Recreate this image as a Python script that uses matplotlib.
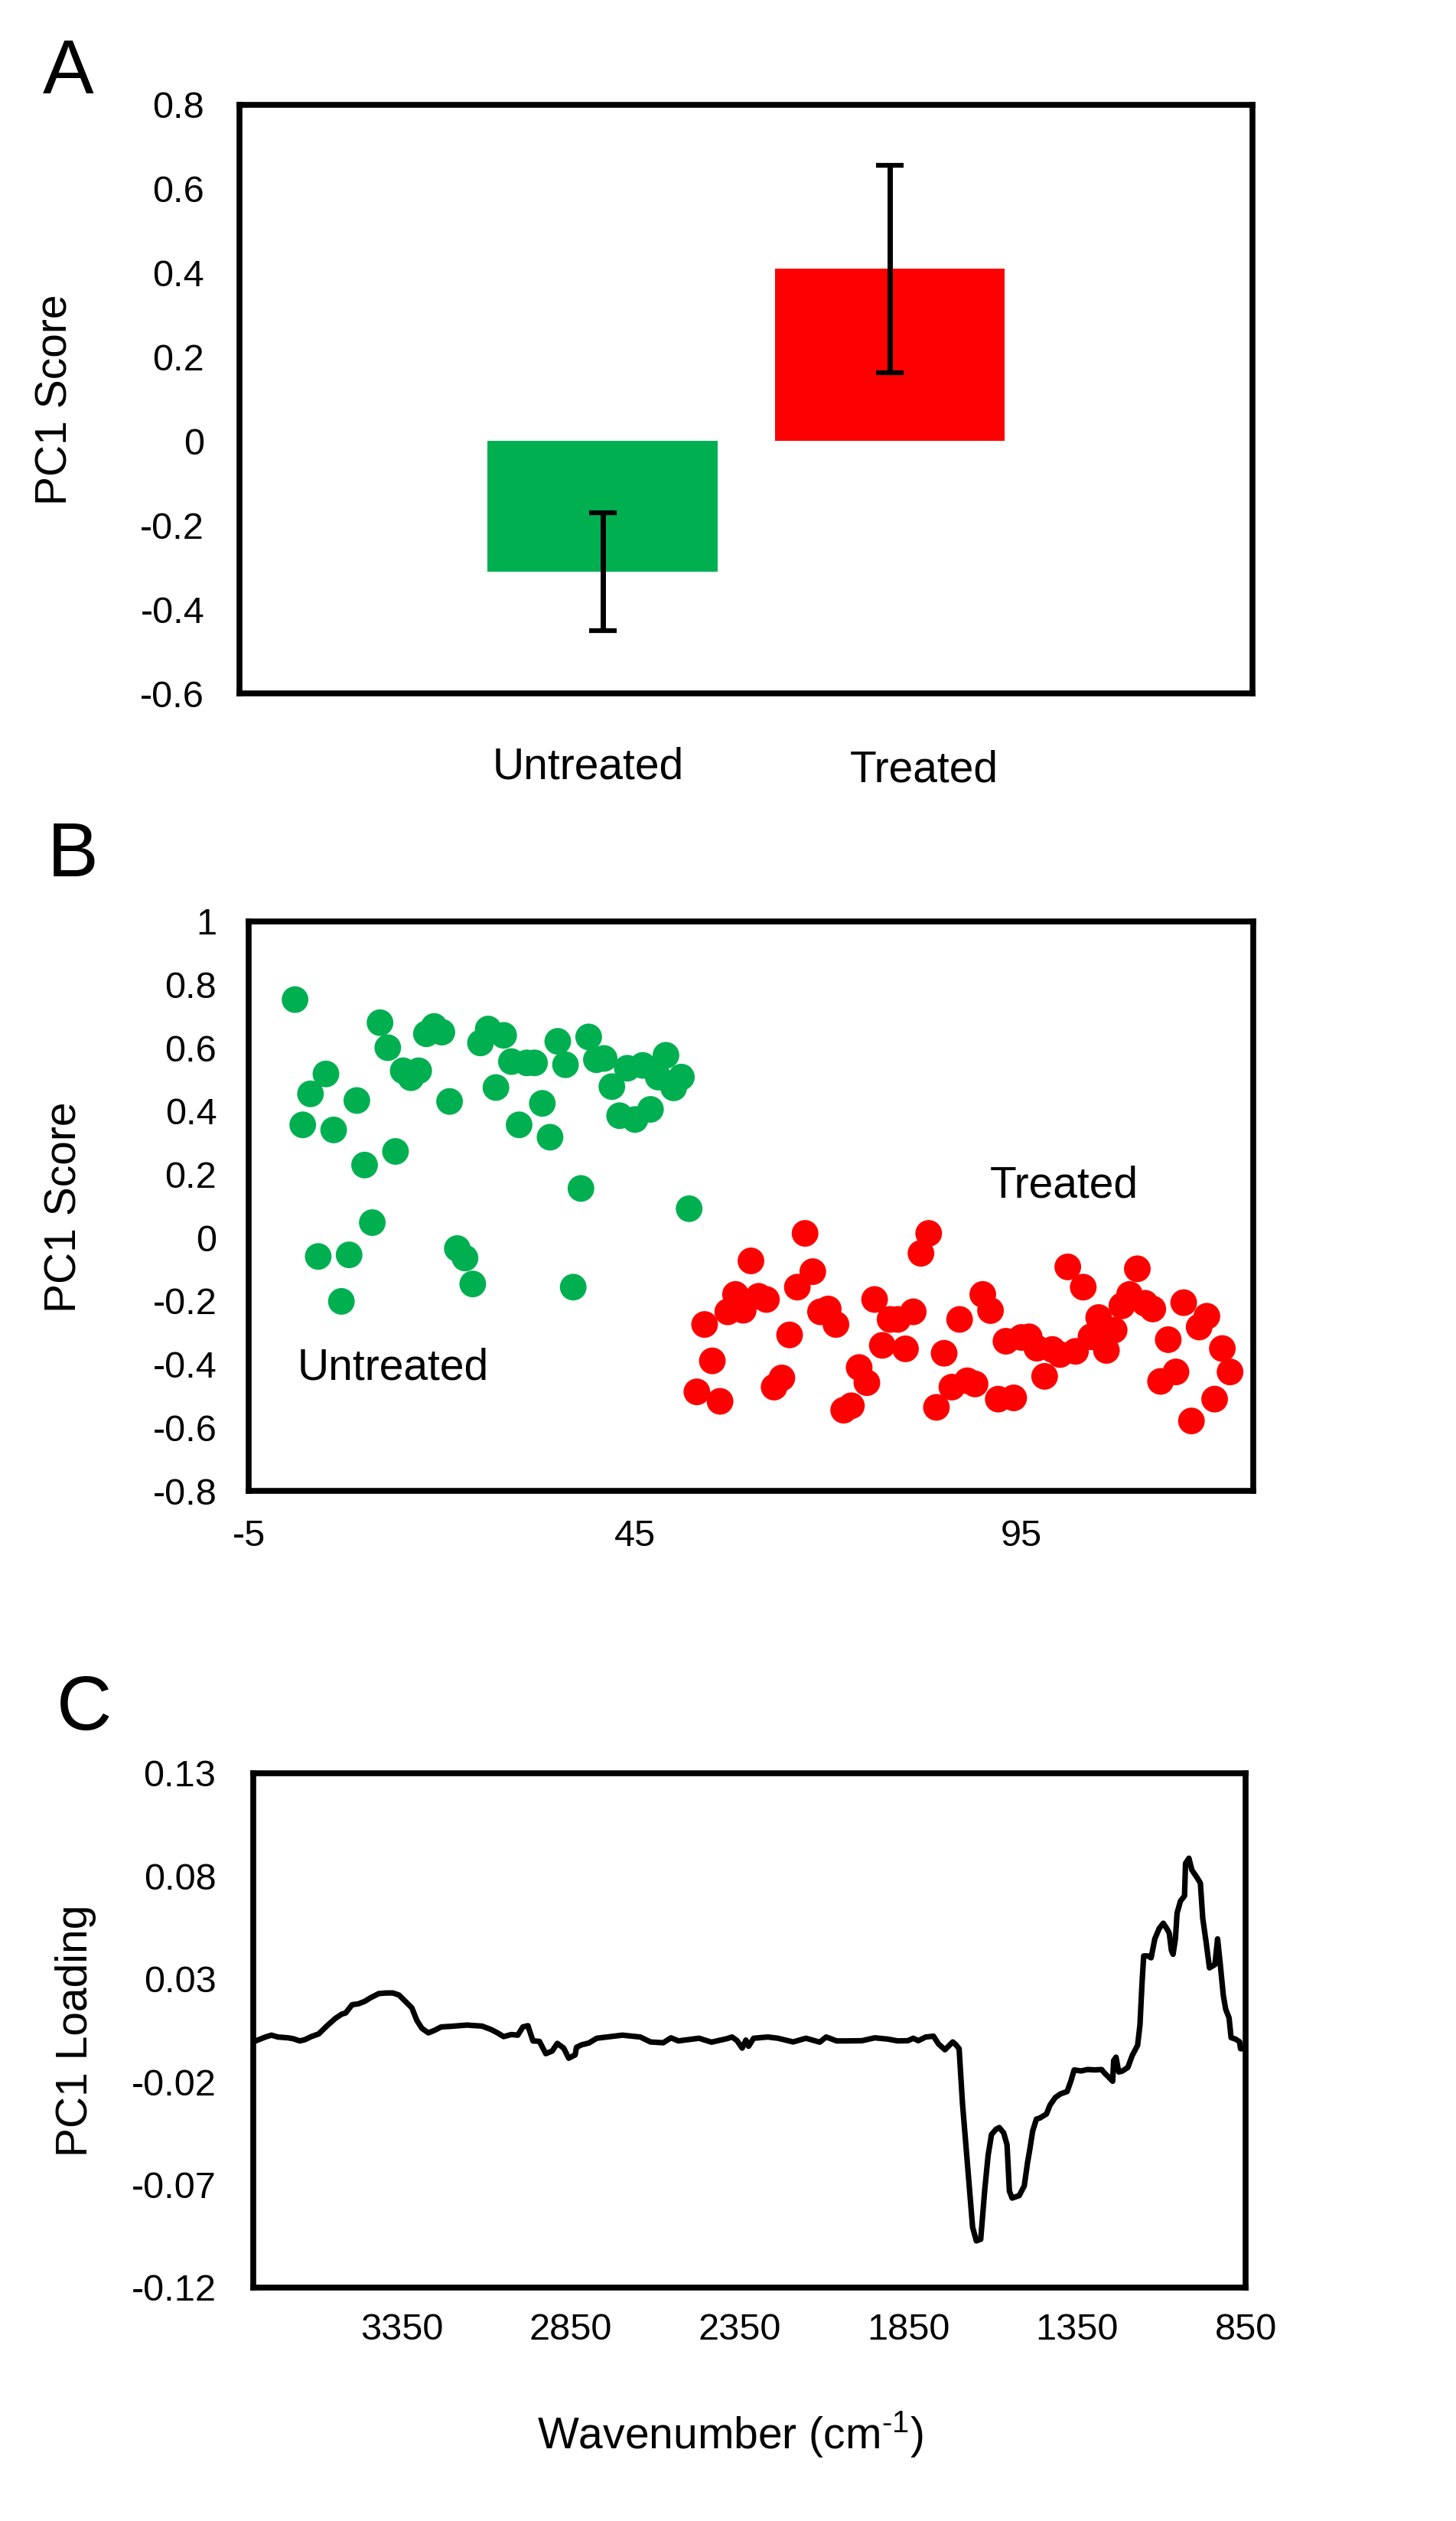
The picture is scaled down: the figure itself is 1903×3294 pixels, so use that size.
import matplotlib
matplotlib.use("Agg")
import matplotlib.pyplot as plt
import matplotlib.transforms as mtransforms

plt.rcParams['font.family'] = ['Liberation Sans', 'DejaVu Sans']
plt.rcParams['axes.unicode_minus'] = False
plt.rcParams['mathtext.fontset'] = 'custom'
plt.rcParams['mathtext.rm'] = 'Liberation Sans'

GREEN = '#00B050'
RED = '#FF0000'

# Panel A - mean PC1 score per group
groups = ['Untreated', 'Treated']
group_mean = [-0.31, 0.41]
group_err = [0.14, 0.247]
a_yticks = [-0.6, -0.4, -0.2, 0, 0.2, 0.4, 0.6, 0.8]
a_ylabels = ['-0.6', '-0.4', '-0.2', '0', '0.2', '0.4', '0.6', '0.8']

# Panel B - PC1 score per sample
untreated_score = [0.753, 0.357, 0.455, -0.059, 0.518, 0.341, -0.201, -0.054, 0.434, 0.230,
                   0.048, 0.680, 0.601, 0.273, 0.528, 0.506, 0.528, 0.645, 0.668, 0.650,
                   0.431, -0.034, -0.064, -0.146, 0.616, 0.660, 0.475, 0.640, 0.557, 0.357,
                   0.553, 0.553, 0.425, 0.318, 0.621, 0.547, -0.156, 0.156, 0.635, 0.563,
                   0.567, 0.478, 0.386, 0.536, 0.374, 0.545, 0.406, 0.508, 0.577, 0.474,
                   0.508, 0.092]
treated_score = [-0.487, -0.274, -0.389, -0.517, -0.234, -0.179, -0.229, -0.073, -0.185, -0.195,
                 -0.472, -0.443, -0.307, -0.156, 0.014, -0.107, -0.234, -0.225, -0.274, -0.545,
                 -0.531, -0.410, -0.458, -0.195, -0.340, -0.258, -0.258, -0.351, -0.234, -0.049,
                 0.014, -0.536, -0.365, -0.472, -0.258, -0.452, -0.462, -0.179, -0.230, -0.510,
                 -0.327, -0.506, -0.315, -0.313, -0.349, -0.438, -0.353, -0.369, -0.092, -0.359,
                 -0.156, -0.313, -0.252, -0.356, -0.292, -0.215, -0.179, -0.098, -0.207, -0.225,
                 -0.454, -0.322, -0.424, -0.205, -0.579, -0.282, -0.248, -0.510, -0.350, -0.424]
untreated_id = list(range(1, len(untreated_score) + 1))
treated_id = list(range(len(untreated_score) + 1, len(untreated_score) + len(treated_score) + 1))
b_xticks = [-5, 45, 95]
b_yticks = [-0.8, -0.6, -0.4, -0.2, 0, 0.2, 0.4, 0.6, 0.8, 1.0]
b_ylabels = ['-0.8', '-0.6', '-0.4', '-0.2', '0', '0.2', '0.4', '0.6', '0.8', '1']

# Panel C - PC1 loading spectrum
wavenumber = [3790, 3755, 3737, 3718, 3688, 3673, 3653, 3638, 3619, 3597, 3574, 3548, 3529, 3517,
              3498, 3480, 3461, 3442, 3419, 3397, 3377, 3359, 3340, 3321, 3306, 3291, 3272, 3253,
              3234, 3204, 3158, 3113, 3087, 3068, 3049, 3026, 3007, 2992, 2977, 2962, 2943, 2924,
              2905, 2890, 2871, 2856, 2837, 2833, 2818, 2796, 2773, 2743, 2697, 2644, 2614, 2576,
              2553, 2531, 2470, 2433, 2387, 2372, 2357, 2342, 2331, 2323, 2308, 2266, 2236, 2191,
              2153, 2112, 2093, 2062, 2032, 1987, 1949, 1911, 1881, 1851, 1835, 1820, 1798, 1775,
              1760, 1741, 1718, 1709, 1699, 1689, 1679, 1669, 1659, 1648, 1635, 1623, 1613, 1603,
              1590, 1580, 1567, 1557, 1550, 1542, 1521, 1506, 1496, 1489, 1481, 1470, 1460, 1440,
              1430, 1414, 1399, 1379, 1368, 1358, 1338, 1318, 1297, 1277, 1267, 1257, 1244, 1241,
              1234, 1226, 1216, 1199, 1186, 1170, 1163, 1157, 1152, 1140, 1130, 1119, 1106, 1094,
              1084, 1078, 1076, 1070, 1065, 1058, 1053, 1043, 1031, 1028, 1018, 1009, 994, 984,
              977, 967, 957, 941, 933, 926, 916, 909, 899, 893, 880, 868, 865, 850]
loading = [-0.0005, 0.0018, 0.0027, 0.0018, 0.0014, 0.0010, -0.0001, 0.0005, 0.0020, 0.0033,
           0.0070, 0.0108, 0.0129, 0.0135, 0.0175, 0.0179, 0.0191, 0.0210, 0.0229, 0.0232,
           0.0232, 0.0222, 0.0191, 0.0160, 0.0098, 0.0060, 0.0038, 0.0051, 0.0067, 0.0070,
           0.0076, 0.0071, 0.0055, 0.0039, 0.0020, 0.0030, 0.0027, 0.0067, 0.0073, -0.0001,
           -0.0003, -0.0063, -0.0050, -0.0013, -0.0036, -0.0085, -0.0069, -0.0032, -0.0020, -0.0011,
           0.0012, 0.0018, 0.0027, 0.0018, -0.0006, -0.0010, 0.0014, -0.0001, 0.0012, -0.0007,
           0.0010, 0.0018, 0.0000, -0.0036, 0.0003, -0.0027, 0.0012, 0.0018, 0.0012, -0.0006,
           0.0012, -0.0007, 0.0018, -0.0001, -0.0001, 0.0000, 0.0014, 0.0008, -0.0001, 0.0000,
           0.0012, 0.0000, 0.0018, 0.0022, -0.0016, -0.0044, -0.0006, -0.0019, -0.0039, -0.0306,
           -0.0506, -0.0706, -0.0907, -0.0973, -0.0965, -0.0723, -0.0556, -0.0456, -0.0431, -0.0422,
           -0.0448, -0.0506, -0.0731, -0.0765, -0.0753, -0.0706, -0.0590, -0.0523, -0.0439, -0.0381,
           -0.0376, -0.0356, -0.0314, -0.0276, -0.0259, -0.0247, -0.0197, -0.0142, -0.0147, -0.0140,
           -0.0142, -0.0140, -0.0159, -0.0175, -0.0197, -0.0097, -0.0080, -0.0152, -0.0148, -0.0130,
           -0.0072, -0.0022, 0.0078, 0.0278, 0.0412, 0.0412, 0.0403, 0.0495, 0.0546, 0.0571,
           0.0546, 0.0529, 0.0520, 0.0440, 0.0420, 0.0495, 0.0621, 0.0679, 0.0704, 0.0862,
           0.0887, 0.0829, 0.0793, 0.0766, 0.0595, 0.0479, 0.0354, 0.0370, 0.0495, 0.0387,
           0.0220, 0.0153, 0.0111, 0.0015, 0.0008, -0.0005, -0.0039, -0.0039]
c_xticks = [3350, 2850, 2350, 1850, 1350, 850]
c_yticks = [-0.12, -0.07, -0.02, 0.03, 0.08, 0.13]
c_ylabels = ['-0.12', '-0.07', '-0.02', '0.03', '0.08', '0.13']

W, H = 1903, 3294


def rect(left, top, right, bottom):
    # pixel box -> figure fraction
    return [left / W, 1 - bottom / H, (right - left) / W, (bottom - top) / H]


def style(ax, xpad, ypad):
    for sp in ax.spines.values():
        sp.set_linewidth(5.5)
        sp.set_color('black')
    ax.tick_params(length=0, labelsize=35)
    ax.tick_params(axis='x', pad=xpad)
    ax.tick_params(axis='y', pad=ypad)


fig = plt.figure(figsize=(W / 100, H / 100), dpi=100)

# ---- A ----
ax_a = fig.add_axes(rect(313, 137, 1637, 906))
ax_a.bar([0, 1], group_mean, width=0.8, color=[GREEN, RED])
ax_a.errorbar([0, 1], group_mean, yerr=group_err, fmt='none', ecolor='black',
              elinewidth=5, capsize=13, capthick=4.5)
ax_a.set_xlim(-1.264, 2.262)
ax_a.set_ylim(-0.6, 0.8)
ax_a.set_yticks(a_yticks)
ax_a.set_yticklabels(a_ylabels)
ax_a.set_xticks([])
style(ax_a, 20, 33)
trans = mtransforms.blended_transform_factory(ax_a.transData, ax_a.transAxes)
ax_a.text(-0.05, -0.145, groups[0], transform=trans, ha='center', va='baseline', fontsize=41)
ax_a.text(1.12, -0.150, groups[1], transform=trans, ha='center', va='baseline', fontsize=41)

# ---- B ----
ax_b = fig.add_axes(rect(325, 1204, 1638, 1948))
ax_b.scatter(untreated_id, untreated_score, s=630, color=GREEN, edgecolors='none', zorder=3)
ax_b.scatter(treated_id, treated_score, s=630, color=RED, edgecolors='none', zorder=3)
ax_b.set_xlim(-5, 125)
ax_b.set_ylim(-0.8, 1.0)
ax_b.set_xticks(b_xticks)
ax_b.set_yticks(b_yticks)
ax_b.set_yticklabels(b_ylabels)
style(ax_b, 27, 30)
ax_b.text(13.7, -0.448, 'Untreated', ha='center', va='baseline', fontsize=41)
ax_b.text(100.5, 0.128, 'Treated', ha='center', va='baseline', fontsize=41)

# ---- C ----
ax_c = fig.add_axes(rect(331, 2317, 1628, 2989))
ax_c.plot(wavenumber, loading, color='black', lw=5.2, solid_joinstyle='round')
ax_c.set_xlim(3791, 850)
ax_c.set_ylim(-0.12, 0.13)
ax_c.set_xticks(c_xticks)
ax_c.set_xticklabels([str(v) for v in c_xticks])
ax_c.set_yticks(c_yticks)
ax_c.set_yticklabels(c_ylabels)
style(ax_c, 24, 35)

# axis titles and panel letters, placed in pixels
fig.text(72 / W, 1 - 522 / H, 'PC1 Score', rotation=90, ha='center', va='center', fontsize=41)
fig.text(85 / W, 1 - 1577 / H, 'PC1 Score', rotation=90, ha='center', va='center', fontsize=41)
fig.text(99 / W, 1 - 2653 / H, 'PC1 Loading', rotation=90, ha='center', va='center', fontsize=41)
fig.text(954 / W, 1 - 3200 / H, r'Wavenumber (cm$^{\text{-1}}$)', ha='center',
         va='baseline', fontsize=41)

fig.text(56 / W, 1 - 122 / H, 'A', ha='left', va='baseline', fontsize=72)
fig.text(62 / W, 1 - 1145 / H, 'B', ha='left', va='baseline', fontsize=72)
fig.text(74 / W, 1 - 2260 / H, 'C', ha='left', va='baseline', fontsize=72)

fig.savefig('out.png', dpi=100, facecolor='white')
